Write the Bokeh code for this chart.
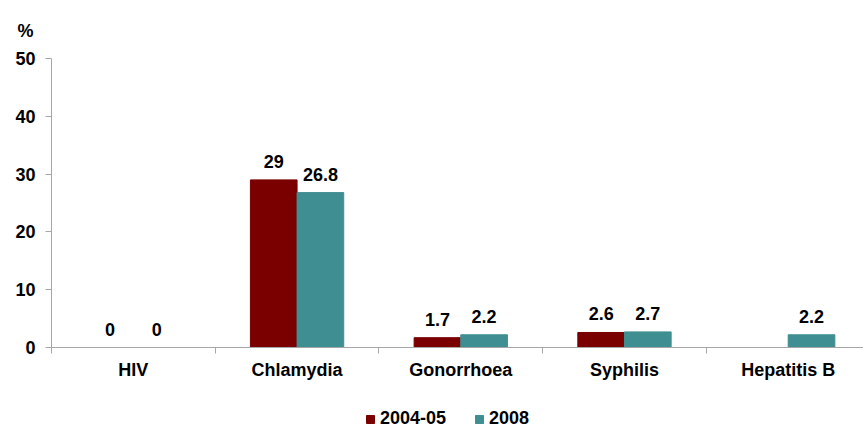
import math
from bokeh.plotting import figure
from bokeh.layouts import column
from bokeh.models import (ColumnDataSource, FixedTicker, Legend, LegendItem,
                          Range1d, LabelSet, LinearAxis)
from bokeh.core.properties import value
from bokeh.transform import dodge
from bokeh.embed import file_html
from bokeh.resources import INLINE

categories = ["HIV", "Chlamydia", "Gonorrhoea", "Syphilis", "Hepatitis B"]
series_names = ["2004-05", "2008"]
values_2004_05 = [0, 29, 1.7, 2.6, float("nan")]
values_2008 = [0, 26.8, 2.2, 2.7, 2.2]
y_ticks = [0, 10, 20, 30, 40, 50]

colors = ["#7A0000", "#3F8E92"]
axis_gray = "#A6A6A6"
FONT = "Liberation Sans"
FS = "18px"

def fmt(v):
    if isinstance(v, float) and math.isnan(v):
        return ""
    return ("%g" % v)

pos = [i + 0.5 for i in range(len(categories))]
src = ColumnDataSource(dict(
    x=pos,
    a=values_2004_05,
    b=values_2008,
    la=[fmt(v) for v in values_2004_05],
    lb=[fmt(v) for v in values_2008],
))

p = figure(width=863, height=399, output_backend="svg", toolbar_location=None,
           x_range=Range1d(0, 4.96), y_range=Range1d(0, 50),
           min_border_left=51, min_border_right=0, min_border_top=56, min_border_bottom=52,
           x_axis_location=None, y_axis_location=None)
p.outline_line_color = None
p.xgrid.visible = False
p.ygrid.visible = False
p.background_fill_color = "white"
p.border_fill_color = "white"

# "%" unit label as title
p.title.text = "%"
p.title.align = "left"
p.title.offset = -34
p.title.standoff = 36
p.title.text_font = FONT
p.title.text_font_style = "bold"
p.title.text_font_size = FS
p.title.text_color = "black"

bw = 0.285
r1 = p.vbar(x=dodge("x", -bw / 2, range=p.x_range), top="a", width=bw, source=src,
            fill_color=colors[0], line_color=colors[0])
r2 = p.vbar(x=dodge("x", bw / 2, range=p.x_range), top="b", width=bw, source=src,
            fill_color=colors[1], line_color=colors[1])

for col, lab, off in (("a", "la", -bw / 2), ("b", "lb", bw / 2)):
    ls = LabelSet(x=dodge("x", off, range=p.x_range), y=col, text=lab, source=src,
                  text_align="center", text_baseline="alphabetic", y_offset=12,
                  text_font=value(FONT), text_font_style="bold", text_font_size=FS,
                  text_color="black")
    p.add_layout(ls)

# y axis
yax = LinearAxis(ticker=FixedTicker(ticks=y_ticks))
yax.axis_line_color = axis_gray
yax.major_tick_line_color = axis_gray
yax.major_tick_in = 0
yax.major_tick_out = 6
yax.minor_tick_line_color = None
yax.major_label_text_font = FONT
yax.major_label_text_font_style = "bold"
yax.major_label_text_font_size = FS
yax.major_label_text_color = "black"
yax.major_label_standoff = 10
p.add_layout(yax, "left")

# x axis
xax = LinearAxis(ticker=FixedTicker(ticks=pos, minor_ticks=list(range(len(categories) + 1))))
xax.major_label_overrides = {x: c for x, c in zip(pos, categories)}
xax.axis_line_color = axis_gray
xax.major_tick_line_color = None
xax.major_tick_in = 0
xax.major_tick_out = 6
xax.minor_tick_line_color = axis_gray
xax.minor_tick_in = 0
xax.minor_tick_out = 6
xax.major_label_text_font = FONT
xax.major_label_text_font_style = "bold"
xax.major_label_text_font_size = FS
xax.major_label_text_color = "black"
xax.major_label_standoff = 6
p.add_layout(xax, "below")

# legend strip below the chart (swatch renderers hold no visible data)
lp = figure(width=863, height=30, output_backend="svg", toolbar_location=None,
            x_range=Range1d(0, 1), y_range=Range1d(0, 1),
            x_axis_location=None, y_axis_location=None,
            min_border_left=0, min_border_right=0, min_border_top=0, min_border_bottom=0)
lp.outline_line_color = None
lp.xgrid.visible = False
lp.ygrid.visible = False
lp.border_fill_color = "white"
lp.background_fill_color = "white"
swatch_src = ColumnDataSource(dict(x=[float("nan")], top=[float("nan")]))
lr1 = lp.vbar(x="x", top="top", width=1, source=swatch_src,
              fill_color=colors[0], line_color=colors[0])
lr2 = lp.vbar(x="x", top="top", width=1, source=swatch_src,
              fill_color=colors[1], line_color=colors[1])

legend = Legend(items=[LegendItem(label=series_names[0], renderers=[lr1]),
                       LegendItem(label=series_names[1], renderers=[lr2])],
                orientation="horizontal", location=(314, 0))
legend.glyph_width = 10
legend.glyph_height = 10
legend.label_standoff = 5
legend.spacing = 28
legend.padding = 0
legend.margin = 0
legend.border_line_color = None
legend.background_fill_alpha = 0
legend.label_text_font = FONT
legend.label_text_font_style = "bold"
legend.label_text_font_size = FS
legend.label_text_color = "black"
lp.add_layout(legend, "center")

layout = column(p, lp, spacing=0)
open("out.html", "w").write(file_html(layout, INLINE))
